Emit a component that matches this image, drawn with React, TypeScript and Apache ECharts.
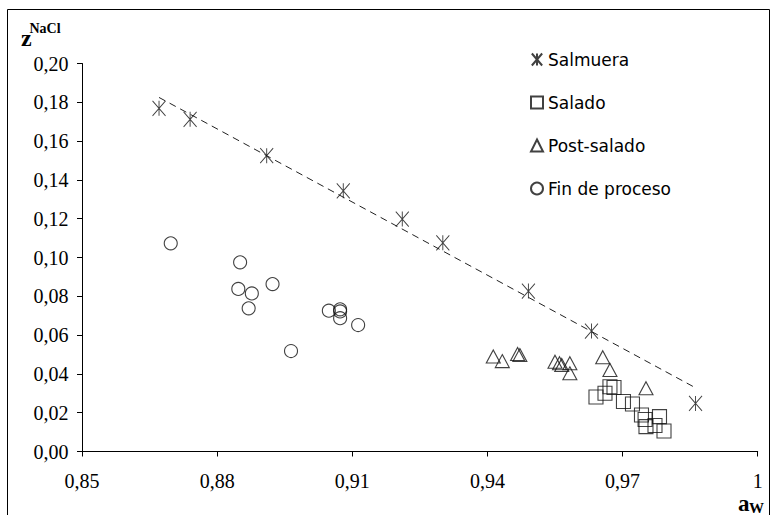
import React, { useEffect, useRef } from 'react';
import * as echarts from 'echarts';

const seriesNames = ['Salmuera', 'Salado', 'Post-salado', 'Fin de proceso'];

const salmueraX = [0.8671, 0.874, 0.891, 0.908, 0.9211, 0.9301, 0.9491, 0.9631, 0.9862];
const salmueraY = [0.1769, 0.1712, 0.1525, 0.1344, 0.1198, 0.1076, 0.0827, 0.0621, 0.0248];

const saladoX = [0.9641, 0.9661, 0.9672, 0.9681, 0.9702, 0.9722, 0.9742, 0.975, 0.9782, 0.9752, 0.9772, 0.9792];
const saladoY = [0.0281, 0.03, 0.0334, 0.033, 0.0258, 0.0245, 0.0188, 0.0165, 0.018, 0.0128, 0.0134, 0.0106];

const postX = [0.9413, 0.9433, 0.9467, 0.9472, 0.955, 0.956, 0.9565, 0.9583, 0.9583, 0.9656, 0.9672, 0.9752];
const postY = [0.049, 0.0466, 0.0503, 0.0497, 0.0463, 0.0455, 0.0446, 0.0455, 0.0403, 0.0486, 0.042, 0.0326];

const finX = [0.8697, 0.8851, 0.8847, 0.8877, 0.887, 0.8923, 0.8964, 0.9048, 0.9073, 0.9073, 0.9073, 0.9113];
const finY = [0.1073, 0.0975, 0.0838, 0.0815, 0.0738, 0.0863, 0.0518, 0.0726, 0.0733, 0.0722, 0.0687, 0.0652];

const xMin = 0.85, xMax = 1, xStep = 0.03;
const yMin = 0, yMax = 0.2, yStep = 0.02;

const zip = (xs: number[], ys: number[]) => xs.map((x, i) => [x, ys[i]]);

function trend(xs: number[], ys: number[]) {
  const n = xs.length;
  const mx = xs.reduce((a, b) => a + b, 0) / n;
  const my = ys.reduce((a, b) => a + b, 0) / n;
  let sxy = 0, sxx = 0;
  for (let i = 0; i < n; i++) {
    sxy += (xs[i] - mx) * (ys[i] - my);
    sxx += (xs[i] - mx) * (xs[i] - mx);
  }
  const b = sxy / sxx;
  const a = my - b * mx;
  const x0 = Math.min(...xs), x1 = Math.max(...xs);
  return [[x0, a + b * x0], [x1, a + b * x1]];
}

const fmt = (v: number, digits: number) => {
  const r = Number(v.toFixed(2));
  if (digits === 0 && Number.isInteger(r)) return String(r);
  return r.toFixed(2).replace('.', ',');
};

const SERIF = 'Liberation Serif';
const SANS = 'DejaVu Sans';

const tickRich = { t: { fontFamily: SERIF, fontSize: 20, color: '#000' } };

const markerStyle = { color: 'rgba(0,0,0,0)', borderColor: '#111', borderWidth: 1.1 };

export default function App() {
  const ref = useRef<HTMLDivElement>(null);
  useEffect(() => {
    if (!ref.current) return;
    const chart = echarts.init(ref.current, undefined, { renderer: 'svg' });
    chart.setOption({
      animation: false,
      backgroundColor: '#fff',
      textStyle: { fontFamily: SERIF },
      grid: { left: 82, right: 13.3, top: 63.5, bottom: 63.5 },
      xAxis: {
        type: 'value', min: xMin, max: xMax, interval: xStep,
        splitLine: { show: false },
        axisLine: { lineStyle: { color: '#000', width: 1 } },
        axisTick: { inside: false, length: 5, lineStyle: { color: '#000' } },
        axisLabel: { margin: 19, color: '#000', fontFamily: SERIF, fontSize: 20, rich: tickRich, formatter: (v: number) => `{t|${fmt(v, 0)}}` },
      },
      yAxis: {
        type: 'value', min: yMin, max: yMax, interval: yStep,
        splitLine: { show: false },
        axisLine: { show: true, lineStyle: { color: '#000', width: 1 } },
        axisTick: { show: true, inside: false, length: 5, lineStyle: { color: '#000' } },
        axisLabel: { margin: 13.5, color: '#000', fontFamily: SERIF, fontSize: 20, rich: tickRich, formatter: (v: number) => `{t|${fmt(v, 2)}}` },
      },
      legend: {
        data: seriesNames,
        orient: 'vertical',
        left: 525, top: 46,
        itemWidth: 12, itemHeight: 12, itemGap: 26,
        textStyle: { fontFamily: SANS, fontSize: 17, color: '#000' },
      },
      series: [
        {
          name: 'trend', type: 'line', data: trend(salmueraX, salmueraY), showSymbol: false, silent: true,
          lineStyle: { color: '#222', width: 1, type: [7, 5] }, z: 1,
        },
        {
          name: seriesNames[0], type: 'scatter', data: zip(salmueraX, salmueraY),
          symbol: 'path://M0,0L12,14M12,0L0,14M6,0L6,14', symbolSize: [13, 15],
          itemStyle: { color: 'rgba(0,0,0,0)', borderColor: '#111', borderWidth: 1 }, z: 3,
        },
        {
          name: seriesNames[1], type: 'scatter', data: zip(saladoX, saladoY),
          symbol: 'rect', symbolSize: 14, itemStyle: markerStyle, z: 3,
        },
        {
          name: seriesNames[2], type: 'scatter', data: zip(postX, postY),
          symbol: 'triangle', symbolSize: [14, 13], itemStyle: markerStyle, z: 3,
        },
        {
          name: seriesNames[3], type: 'scatter', data: zip(finX, finY),
          symbol: 'circle', symbolSize: 13, itemStyle: markerStyle, z: 3,
        },
      ],
      graphic: [
        { type: 'rect', shape: { x: 7.5, y: 9.5, width: 762, height: 520 }, style: { fill: 'none', stroke: '#000', lineWidth: 1 }, silent: true },
        { type: 'text', x: 21, y: 38, style: { text: 'z', font: `bold 24px ${SERIF}`, fill: '#000', verticalAlign: 'middle' } },
        { type: 'text', x: 29.5, y: 28.5, style: { text: 'NaCl', font: `bold 14px ${SERIF}`, fill: '#000', verticalAlign: 'middle' } },
        { type: 'text', x: 738, y: 503, style: { text: 'a', font: `bold 23px ${SERIF}`, fill: '#000', verticalAlign: 'middle' } },
        { type: 'text', x: 749, y: 508, style: { text: 'W', font: `bold 15px ${SERIF}`, fill: '#000', verticalAlign: 'middle' } },
      ],
    });
    return () => chart.dispose();
  }, []);
  return <div ref={ref} style={{ position: 'absolute', left: 0, top: 0, width: 771, height: 515 }} />;
}
